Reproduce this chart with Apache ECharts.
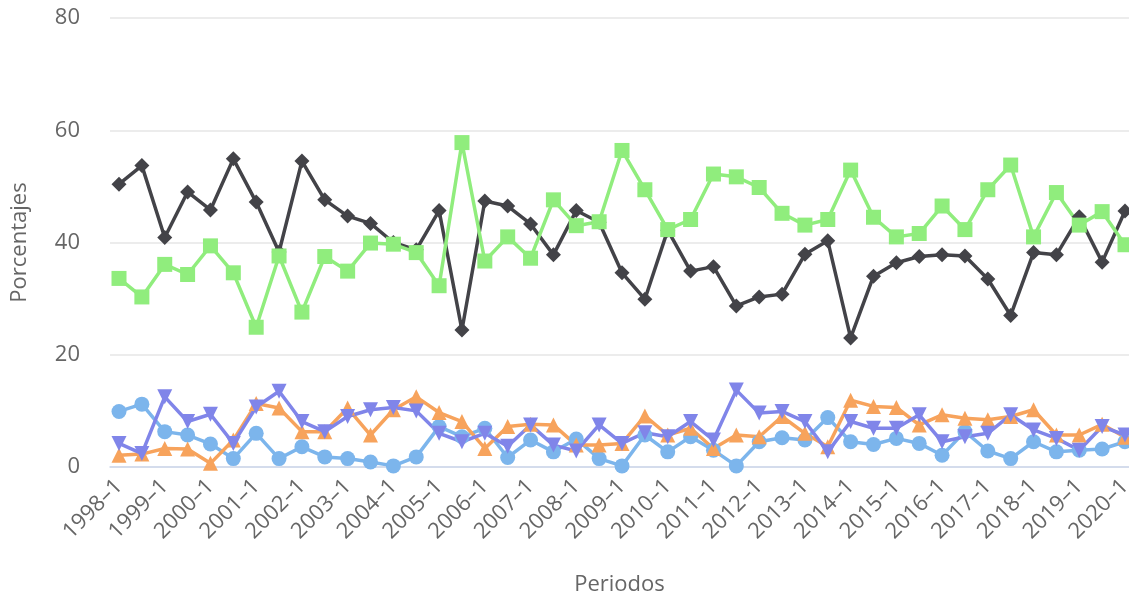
<!DOCTYPE html>
<html>
<head>
<meta charset="utf-8">
<script src="https://cdn.jsdelivr.net/npm/echarts@6/dist/echarts.min.js"></script>
<style>html,body{margin:0;padding:0;background:#fff}#c{width:1129px;height:596px}</style>
</head>
<body>
<div id="c"></div>
<script>
const categories = [];
for (let y = 1998; y <= 2020; y++) { categories.push(y + '–1'); if (y < 2020) categories.push(y + '–2'); }

const tickLabels = ['0', '20', '40', '60', '80'];

const serieAzul = [9.9,11.2,6.3,5.7,4.1,1.5,6.0,1.5,3.6,1.8,1.5,0.9,0.2,1.8,7.2,5.4,6.9,1.7,4.8,2.7,5.0,1.5,0.2,5.7,2.7,5.4,3.0,0.2,4.5,5.2,4.8,8.8,4.5,4.0,5.1,4.2,2.1,6.3,2.85,1.5,4.5,2.7,3.0,3.2,4.5];
const serieNegra = [50.4,53.7,40.9,49.0,45.8,54.9,47.2,38.3,54.5,47.6,44.7,43.4,40.0,38.7,45.7,24.4,47.4,46.5,43.3,37.8,45.7,43.6,34.6,29.9,42.2,34.9,35.7,28.7,30.3,30.8,37.9,40.3,23.0,34.0,36.4,37.5,37.8,37.6,33.5,27.0,38.2,37.8,44.6,36.5,45.6];
const serieVerde = [33.6,30.3,36.1,34.3,39.4,34.6,24.9,37.6,27.6,37.5,34.9,39.9,39.7,38.2,32.3,57.8,36.7,41.0,37.2,47.6,43.0,43.7,56.4,49.4,42.3,44.1,52.2,51.7,49.8,45.2,43.1,44.1,52.9,44.5,41.0,41.6,46.5,42.3,49.4,53.8,41.0,48.9,43.1,45.5,39.6];
const serieNaranja = [2.1,2.3,3.3,3.2,0.65,4.8,11.3,10.5,6.3,6.3,10.5,5.7,10.2,12.5,9.7,8.1,3.3,7.2,7.6,7.5,3.9,3.9,4.2,9.1,5.7,6.9,3.3,5.7,5.4,9.0,6.0,3.6,11.9,10.8,10.6,7.5,9.3,8.7,8.4,9.0,10.2,5.7,5.7,7.6,5.3];
const serieMorada = [4.2,2.4,12.5,8.1,9.4,4.2,10.7,13.5,8.1,6.3,9.0,10.2,10.6,10.0,6.0,4.5,6.0,3.7,7.5,3.9,2.85,7.5,4.2,6.1,5.4,8.1,4.8,13.7,9.6,9.9,8.1,2.7,8.1,6.9,6.9,9.3,4.5,5.4,6.0,9.3,6.6,5.1,3.0,7.2,5.7];

const labelIdx = categories.map((c, i) => i).filter(i => i % 2 === 0);
const toPairs = arr => arr.map((v, i) => [i, v]);
const font = '"Open Sans", sans-serif';

function mk(name, data, color, symbol, rotate) {
  return {
    name, type: 'line', data: toPairs(data), symbol, symbolSize: 15,
    symbolRotate: rotate || 0,
    lineStyle: { color, width: 3.5 },
    itemStyle: { color },
    emphasis: { disabled: true },
    animation: false
  };
}

const chart = echarts.init(document.getElementById('c'));
chart.setOption({
  animation: false,
  textStyle: { fontFamily: font },
  grid: { left: 110, right: 0, top: 18, bottom: 129, containLabel: false, outerBoundsMode: 'none' },
  xAxis: {
    type: 'value', min: -0.394, max: 44.175,
    name: 'Periodos', nameLocation: 'middle', nameGap: 107,
    nameTextStyle: { color: '#666666', fontSize: 22, fontFamily: font },
    axisLine: { show: true, lineStyle: { color: '#ccd6eb', width: 1.5 } },
    axisTick: { show: false },
    splitLine: { show: false },
    axisLabel: {
      customValues: labelIdx, rotate: 45, margin: 16,
      color: '#666666', fontSize: 22, fontFamily: font,
      formatter: v => categories[Math.round(v)]
    }
  },
  yAxis: {
    type: 'value', min: 0, max: 80, interval: 20,
    name: 'Porcentajes', nameLocation: 'middle', nameGap: 79, nameRotate: 90,
    nameTextStyle: { color: '#666666', fontSize: 22, fontFamily: font },
    axisLine: { show: false }, axisTick: { show: false },
    splitLine: { lineStyle: { color: '#e6e6e6', width: 1.5 } },
    axisLabel: { color: '#666666', fontSize: 22, fontFamily: font, margin: 30,
      formatter: v => tickLabels[v / 20] }
  },
  series: [
    mk('Serie 1', serieAzul, '#7cb5ec', 'circle'),
    mk('Serie 2', serieNegra, '#434348', 'diamond'),
    mk('Serie 3', serieVerde, '#90ed7d', 'rect'),
    mk('Serie 4', serieNaranja, '#f7a35c', 'triangle'),
    mk('Serie 5', serieMorada, '#8085e9', 'triangle', 180)
  ]
});
</script>
</body>
</html>
